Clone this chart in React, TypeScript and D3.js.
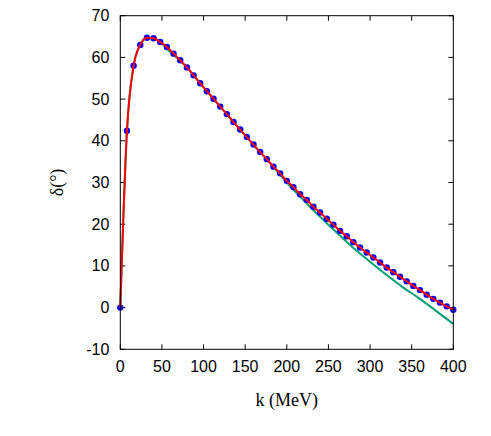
import React, { useRef, useEffect } from 'react';
import * as d3 from 'd3';

// phase shift data points (k in MeV, delta in degrees)
const kPoints = [
  0, 8, 16, 24, 32, 40, 48, 56, 64, 72, 80, 88, 96, 104, 112, 120, 128, 136, 144, 152,
  160, 168, 176, 184, 192, 200, 208, 216, 224, 232, 240, 248, 256, 264, 272, 280, 288,
  296, 304, 312, 320, 328, 336, 344, 352, 360, 368, 376, 384, 392, 400,
];
const deltaPoints = [
  0, 42.4, 58, 63, 64.7, 64.6, 63.7, 62.5, 60.9, 59.3, 57.6, 55.7, 53.8, 51.9, 50.1, 48.2,
  46.4, 44.5, 42.7, 40.9, 39.1, 37.3, 35.6, 33.8, 32.2, 30.4, 28.9, 27.2, 25.8, 24.2, 22.8,
  21.3, 19.9, 18.4, 17.1, 15.7, 14.4, 13.2, 12.0, 10.8, 9.6, 8.5, 7.4, 6.3, 5.2, 4.2, 3.1,
  2.1, 1.2, 0.3, -0.5,
];

// second (green) curve
const kGreen = [
  0, 8, 16, 24, 32, 40, 60, 80, 100, 120, 140, 160, 180, 200, 220, 240, 260, 280,
  300, 320, 340, 360, 380, 400,
];
const deltaGreen = [
  0, 42.4, 58, 63, 64.7, 64.6, 61.3, 57.6, 52.8, 48.2, 43.6, 39.0, 34.6, 30.0,
  25.8, 21.8, 18.0, 14.3, 11.0, 7.8, 4.8, 2.1, -0.9, -3.9,
];

const xTicks = [0, 50, 100, 150, 200, 250, 300, 350, 400];
const yTicks = [-10, 0, 10, 20, 30, 40, 50, 60, 70];

const W = 491;
const H = 436;
const margin = { left: 120.3, top: 15.7, right: 37.7, bottom: 86.7 };

const PhaseChart = () => {
  const svgRef = useRef<SVGSVGElement>(null);

  useEffect(() => {
    if (!svgRef.current) return;
    const root = d3.select(svgRef.current);
    root.selectAll('*').remove();

    const iw = W - margin.left - margin.right;
    const ih = H - margin.top - margin.bottom;

    const x = d3.scaleLinear().domain([0, 400]).range([0, iw]);
    const y = d3.scaleLinear().domain([-10, 70]).range([ih, 0]);

    const svg = root.append('g').attr('transform', `translate(${margin.left},${margin.top})`);

    const font = "'Liberation Sans', Arial, sans-serif";
    const serif = "'Liberation Serif', 'Times New Roman', serif";

    // ticks (inward, mirrored on all four sides)
    const tl = 5;
    xTicks.forEach(t => {
      svg.append('line').attr('x1', x(t)).attr('x2', x(t)).attr('y1', ih).attr('y2', ih - tl)
        .attr('stroke', '#000').attr('stroke-width', 1);
      svg.append('line').attr('x1', x(t)).attr('x2', x(t)).attr('y1', 0).attr('y2', tl)
        .attr('stroke', '#000').attr('stroke-width', 1);
      svg.append('text').attr('x', x(t)).attr('y', ih + 23)
        .attr('text-anchor', 'middle').attr('font-family', font).attr('font-size', 16)
        .attr('fill', '#000').text(t);
    });
    yTicks.forEach(t => {
      svg.append('line').attr('x1', 0).attr('x2', tl).attr('y1', y(t)).attr('y2', y(t))
        .attr('stroke', '#000').attr('stroke-width', 1);
      svg.append('line').attr('x1', iw).attr('x2', iw - tl).attr('y1', y(t)).attr('y2', y(t))
        .attr('stroke', '#000').attr('stroke-width', 1);
      svg.append('text').attr('x', -11).attr('y', y(t) + 5.5)
        .attr('text-anchor', 'end').attr('font-family', font).attr('font-size', 16)
        .attr('fill', '#000').text(t);
    });

    // green curve
    const greenLine = d3.line<number>()
      .x((_, i) => x(kGreen[i]))
      .y(d => y(d))
      .curve(d3.curveMonotoneX);
    svg.append('path').attr('d', greenLine(deltaGreen) || '')
      .attr('fill', 'none').attr('stroke', '#009e73').attr('stroke-width', 2);

    // data points
    svg.selectAll('.dot').data(deltaPoints).enter().append('circle')
      .attr('cx', (_, i) => x(kPoints[i]))
      .attr('cy', d => y(d))
      .attr('r', 3.2)
      .attr('fill', '#0000ff');

    // red fit
    const redLine = d3.line<number>()
      .x((_, i) => x(kPoints[i]))
      .y(d => y(d))
      .curve(d3.curveMonotoneX);
    svg.append('path').attr('d', redLine(deltaPoints) || '')
      .attr('fill', 'none').attr('stroke', '#ff0000').attr('stroke-width', 2);

    // frame
    svg.append('rect').attr('x', 0).attr('y', 0).attr('width', iw).attr('height', ih)
      .attr('fill', 'none').attr('stroke', '#000').attr('stroke-width', 1);

    // axis labels
    svg.append('text').attr('x', iw / 2).attr('y', ih + 57)
      .attr('text-anchor', 'middle').attr('font-family', serif)
      .attr('font-size', 18).attr('fill', '#000').text('k (MeV)');
    svg.append('text')
      .attr('transform', `translate(${63 - margin.left},${ih / 2}) rotate(-90)`)
      .attr('text-anchor', 'middle').attr('font-family', serif)
      .attr('font-size', 18).attr('fill', '#000').text('δ(°)');
  }, []);

  return <svg ref={svgRef} width={W} height={H} style={{ display: 'block' }} />;
};

export default function App() {
  return (
    <div style={{ position: 'absolute', left: 0, top: 0, background: '#fff' }}>
      <PhaseChart />
    </div>
  );
}
